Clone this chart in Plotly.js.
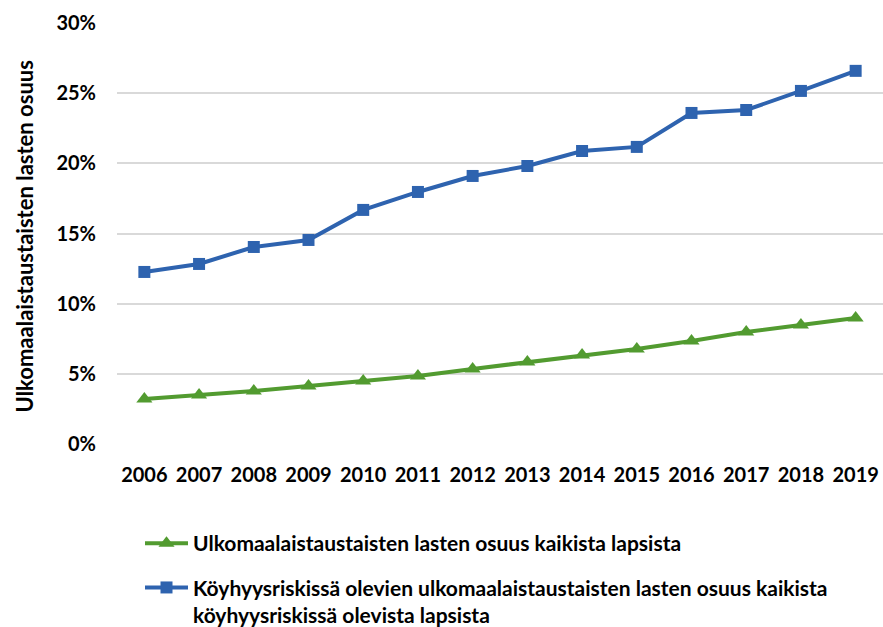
<!DOCTYPE html>
<html>
<head>
<meta charset="utf-8">
<script src="https://cdn.plot.ly/plotly-3.0.1.min.js"></script>
<style>html,body{margin:0;padding:0;background:#fff;}#chart{width:883px;height:627px;}</style>
</head>
<body>
<div id="chart"></div>
<script>
const years = ['2006','2007','2008','2009','2010','2011','2012','2013','2014','2015','2016','2017','2018','2019'];
const shareAll = [0.0321,0.0349,0.0378,0.0413,0.0449,0.0485,0.0535,0.0584,0.0634,0.0677,0.0734,0.0798,0.0848,0.0898];
const sharePoverty = [0.1226,0.1283,0.1404,0.1454,0.1668,0.1796,0.1910,0.1981,0.2088,0.2117,0.2359,0.2380,0.2516,0.2659];
const tickVals = [0,0.05,0.10,0.15,0.20,0.25,0.30];
const tickText = ['0%','5%','10%','15%','20%','25%','30%'];
const name1 = 'Ulkomaalaistaustaisten lasten osuus kaikista lapsista';
const name2 = 'Köyhyysriskissä olevien ulkomaalaistaustaisten lasten osuus kaikista<br>köyhyysriskissä olevista lapsista';
const yTitle = 'Ulkomaalaistaustaisten lasten osuus';

const FONT = 'Lato, "Noto Sans", sans-serif';
const green = '#529B30', blue = '#2E63AF';

const traces = [
  {x: years, y: shareAll, name: name1, legendgroup: 'a', type: 'scatter', mode: 'lines+markers',
   line: {color: green, width: 4}, marker: {symbol: 'triangle-up', size: 14, color: green}},
  {x: years, y: sharePoverty, name: name2, legendgroup: 'b', type: 'scatter', mode: 'lines+markers',
   line: {color: blue, width: 4}, marker: {symbol: 'square', size: 12, color: blue}}
];

const layout = {
  width: 883, height: 627,
  margin: {l: 117, r: 0, t: 23, b: 183, autoexpand: false},
  paper_bgcolor: '#fff', plot_bgcolor: '#fff',
  font: {family: FONT, color: '#000', size: 18},
  showlegend: true,
  legend: {xref: 'container', yref: 'container', x: 140/883, y: 1 - 523/627, xanchor: 'left', yanchor: 'top',
           orientation: 'v', valign: 'top', itemwidth: 43, font: {family: FONT, size: 21, color: '#000', weight: 'bold'}, tracegroupgap: 14,
           bgcolor: 'rgba(0,0,0,0)'},
  xaxis: {type: 'category', range: [-0.5, 13.5], showgrid: false, zeroline: false, showline: false, ticks: '', tickangle: 0,
          tickfont: {family: FONT, size: 20, weight: 'bold'}, ticklabelstandoff: 17},
  yaxis: {range: [0, 0.30], tickvals: tickVals, ticktext: tickText, showgrid: true, gridcolor: '#d9d9d9', gridwidth: 2,
          zeroline: false, showline: false, ticks: '', tickfont: {family: FONT, size: 20, weight: 'bold'}, ticklabelstandoff: 20},
  annotations: [{text: yTitle, xref: 'paper', yref: 'paper', x: 0, y: 0.5, xanchor: 'center', yanchor: 'middle',
                 xshift: -93, yshift: -3, textangle: -90, showarrow: false,
                 font: {family: FONT, size: 22, weight: 'bold', color: '#000'}}]
};

Plotly.newPlot('chart', traces, layout, {displayModeBar: false});
</script>
</body>
</html>
